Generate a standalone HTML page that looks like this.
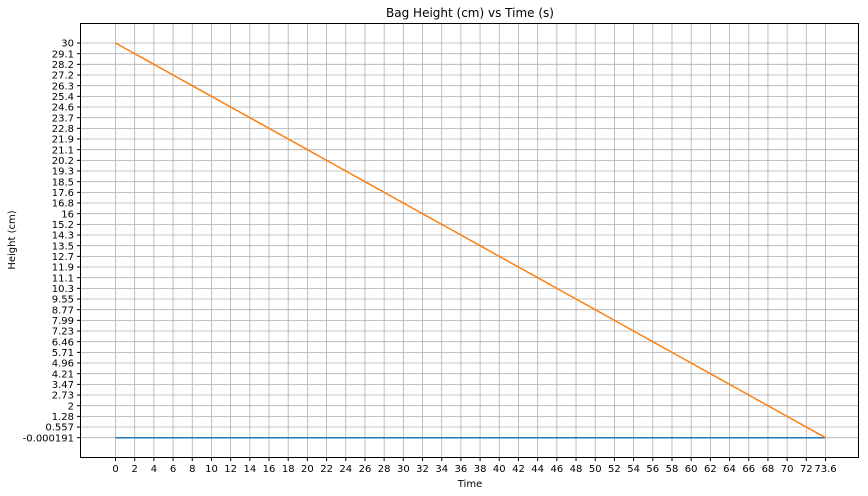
<!DOCTYPE html>
<html><head><meta charset="utf-8"><style>
body{margin:0;background:#fff}
svg{display:block;font-family:"DejaVu Sans","Liberation Sans",sans-serif}
</style></head><body>
<svg id="chart" width="868" height="496" viewBox="0 0 868 496">
<rect width="868" height="496" fill="#fff"/>
<g id="grid"></g><g id="ticks"></g><g id="lines"></g>
<rect x="80.5" y="23.5" width="778" height="434" fill="none" stroke="#000" stroke-width="1"/>
<text x="470" y="17" text-anchor="middle" font-size="12">Bag Height (cm) vs Time (s)</text>
<text x="470" y="487" text-anchor="middle" font-size="10">Time</text>
<text transform="translate(15,240) rotate(-90)" text-anchor="middle" font-size="10">Height (cm)</text>
</svg>
<script>
const xTicks=[0,2,4,6,8,10,12,14,16,18,20,22,24,26,28,30,32,34,36,38,40,42,44,46,48,50,52,54,56,58,60,62,64,66,68,70,72,73.6];
const yTicks=[30,29.1,28.2,27.2,26.3,25.4,24.6,23.7,22.8,21.9,21.1,20.2,19.3,18.5,17.6,16.8,16,15.2,14.3,13.5,12.7,11.9,11.1,10.3,9.55,8.77,7.99,7.23,6.46,5.71,4.96,4.21,3.47,2.73,2,1.28,0.557,-0.000191];
const timeValues=[0,2,4,6,8,10,12,14,16,18,20,22,24,26,28,30,32,34,36,38,40,42,44,46,48,50,52,54,56,58,60,62,64,66,68,70,72,73.6];
const heightValues=[30,29.1,28.2,27.2,26.3,25.4,24.6,23.7,22.8,21.9,21.1,20.2,19.3,18.5,17.6,16.8,16,15.2,14.3,13.5,12.7,11.9,11.1,10.3,9.55,8.77,7.99,7.23,6.46,5.71,4.96,4.21,3.47,2.73,2,1.28,0.557,-0.000191];
const baselineValues=[-0.000191,-0.000191];
const baselineTimes=[0,73.6];
const NS="http://www.w3.org/2000/svg";
const X0=115.5,XS=(825.5-115.5)/37,Y0=43,YS=(437.7-43)/37;
function interp(v,arr,p0,ps,desc){
  // piecewise linear over tick values (categorical-like axis)
  const n=arr.length;
  for(let i=0;i<n-1;i++){
    const a=arr[i],b=arr[i+1];
    const lo=Math.min(a,b),hi=Math.max(a,b);
    if(v>=lo&&v<=hi){const t=(b===a)?0:(v-a)/(b-a);return p0+(i+t)*ps;}
  }
  const a=arr[0],b=arr[1],c=arr[n-2],d=arr[n-1];
  if((desc&&v>a)||(!desc&&v<a)) return p0+((v-a)/(b-a))*ps;
  return p0+(n-1+(v-d)/(d-c))*ps;
}
function xScale(v){return interp(v,xTicks,X0,XS,false);}
function yScale(v){return interp(v,yTicks,Y0,YS,true);}
const grid=document.getElementById('grid'),ticks=document.getElementById('ticks'),lines=document.getElementById('lines');
xTicks.forEach(v=>{
  const x=xScale(v);
  const g=document.createElementNS(NS,'line');
  
  
  g.setAttribute('x1',x);g.setAttribute('x2',x);g.setAttribute('y1',23.5);g.setAttribute('y2',457.5);
  g.setAttribute('stroke','#b0b0b0');g.setAttribute('stroke-width','0.8');grid.appendChild(g);
  const tk=document.createElementNS(NS,'line');
  
  
  tk.setAttribute('x1',x);tk.setAttribute('x2',x);tk.setAttribute('y1',457.5);tk.setAttribute('y2',461);
  tk.setAttribute('stroke','#000');ticks.appendChild(tk);
  const t=document.createElementNS(NS,'text');
  
  
  t.setAttribute('x',x);t.setAttribute('y',472);t.setAttribute('text-anchor','middle');t.setAttribute('font-size','10');
  t.textContent=String(v);ticks.appendChild(t);
});
yTicks.forEach(v=>{
  const y=yScale(v);
  const g=document.createElementNS(NS,'line');
  
  
  g.setAttribute('x1',80.5);g.setAttribute('x2',858.5);g.setAttribute('y1',y);g.setAttribute('y2',y);
  g.setAttribute('stroke','#b0b0b0');g.setAttribute('stroke-width','0.8');grid.appendChild(g);
  const tk=document.createElementNS(NS,'line');
  
  
  tk.setAttribute('x1',77);tk.setAttribute('x2',80.5);tk.setAttribute('y1',y);tk.setAttribute('y2',y);
  tk.setAttribute('stroke','#000');ticks.appendChild(tk);
  const t=document.createElementNS(NS,'text');
  
  
  t.setAttribute('x',74);t.setAttribute('y',y+3.6);t.setAttribute('text-anchor','end');t.setAttribute('font-size','10');
  t.textContent=String(v);ticks.appendChild(t);
});
function poly(xs,ys,color,name){
  const p=document.createElementNS(NS,'polyline');
  
  
  p.setAttribute('points',xs.map((x,i)=>xScale(x)+','+yScale(ys[i])).join(' '));
  p.setAttribute('fill','none');p.setAttribute('stroke',color);p.setAttribute('stroke-width','1.5');
  lines.appendChild(p);
}
poly(baselineTimes,baselineValues,'#1f77b4','baseline-series');
poly(timeValues,heightValues,'#ff7f0e','height-series');
</script>
</body></html>
